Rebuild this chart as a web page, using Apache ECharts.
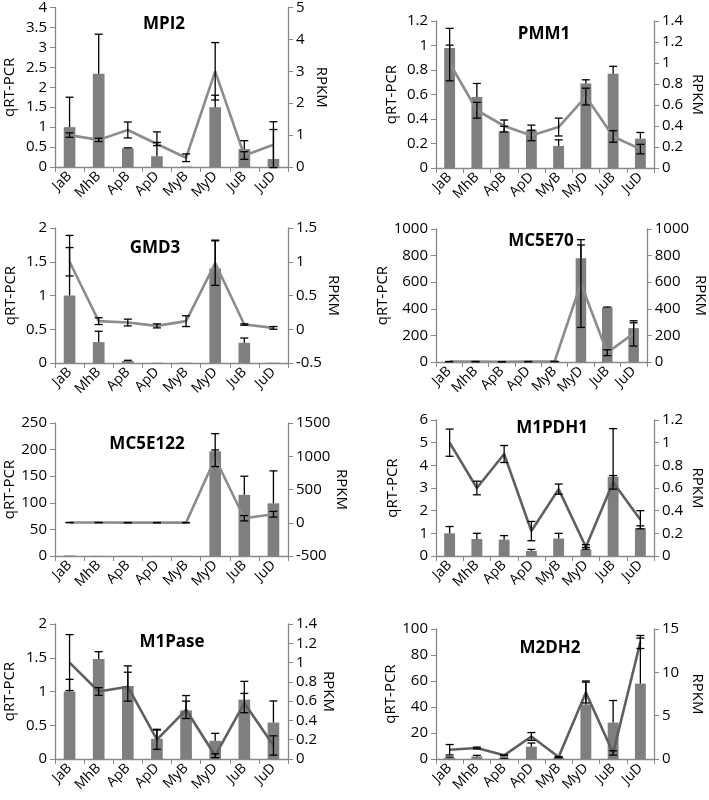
<!DOCTYPE html>
<html><head><meta charset="utf-8">
<script src="https://cdn.jsdelivr.net/npm/echarts@6/dist/echarts.min.js"></script>
<style>html,body{margin:0;padding:0;background:#fff}#c{width:709px;height:800px}</style>
</head><body><div id="c"></div>
<script>
const categories = ['JaB','MhB','ApB','ApD','MyB','MyD','JuB','JuD'];
const genes = ['MPI2','PMM1','GMD3','MC5E70','MC5E122','M1PDH1','M1Pase','M2DH2'];

// qRT-PCR (bars, left axis) with + error; RPKM (line, right axis) with ± error
const mpi2Qpcr = [1.0, 2.34, 0.47, 0.27, 0.01, 1.5, 0.45, 0.2];
const mpi2QpcrErr = [0.75, 0.99, 0.01, 0.61, 0, 0.3, 0.21, 0.74];
const mpi2Rpkm = [1.0, 0.85, 1.16, 0.72, 0.29, 3.0, 0.36, 0.7];
const mpi2RpkmErr = [0.07, 0.05, 0.25, 0.05, 0.12, 0.9, 0.12, 0.72];

const pmm1Qpcr = [0.98, 0.58, 0.30, 0.31, 0.18, 0.69, 0.77, 0.24];
const pmm1QpcrErr = [0.16, 0.11, 0.04, 0.04, 0.05, 0.03, 0.06, 0.05];
const pmm1Rpkm = [1.0, 0.55, 0.40, 0.31, 0.39, 0.68, 0.30, 0.18];
const pmm1RpkmErr = [0.17, 0.075, 0.057, 0.05, 0.085, 0.08, 0.055, 0.045];

const gmd3Qpcr = [1.0, 0.31, 0.03, 0.005, 0.005, 1.4, 0.3, 0.005];
const gmd3QpcrErr = [0.89, 0.16, 0.01, 0, 0, 0.42, 0.07, 0];
const gmd3Rpkm = [1.0, 0.12, 0.10, 0.05, 0.12, 0.98, 0.07, 0.02];
const gmd3RpkmErr = [0.21, 0.05, 0.05, 0.03, 0.08, 0.33, 0.01, 0.02];

const mc5e70Qpcr = [2, 3, 2, 2, 3, 780, 410, 255];
const mc5e70QpcrErr = [0, 0, 0, 0, 0, 100, 3, 40];
const mc5e70Rpkm = [3, 3, 2, 3, 4, 590, 70, 215];
const mc5e70RpkmErr = [1, 1, 1, 1, 1, 330, 22, 95];

const mc5e122Qpcr = [1, 0.3, 0.2, 0.2, 0.2, 197, 115, 99];
const mc5e122QpcrErr = [0, 0, 0, 0, 0, 33, 35, 61];
const mc5e122Rpkm = [3, 3, 2, 2, 2, 970, 68, 128];
const mc5e122RpkmErr = [1, 1, 1, 1, 1, 125, 40, 43];

const m1pdh1Qpcr = [1.0, 0.75, 0.72, 0.22, 0.77, 0.28, 3.5, 1.23];
const m1pdh1QpcrErr = [0.3, 0.25, 0.18, 0.07, 0.23, 0.1, 2.12, 0.1];
const m1pdh1Rpkm = [1.0, 0.6, 0.9, 0.22, 0.59, 0.08, 0.65, 0.32];
const m1pdh1RpkmErr = [0.12, 0.06, 0.075, 0.085, 0.045, 0.02, 0.06, 0.08];

const m1paseQpcr = [1.0, 1.48, 1.08, 0.30, 0.72, 0.27, 0.88, 0.54];
const m1paseQpcrErr = [0.18, 0.11, 0.30, 0.14, 0.22, 0.11, 0.27, 0.32];
const m1paseRpkm = [1.0, 0.7, 0.75, 0.2, 0.51, 0.034, 0.58, 0.14];
const m1paseRpkmErr = [0.29, 0.04, 0.15, 0.1, 0.09, 0.02, 0.1, 0.1];

const m2dh2Qpcr = [1, 2, 0.5, 9.5, 0.8, 42, 28, 58];
const m2dh2QpcrErr = [0.5, 0.8, 0.2, 2.8, 0.3, 18, 17, 35];
const m2dh2Rpkm = [1.07, 1.27, 0.42, 2.6, 0.23, 7.67, 0.7, 13.5];
const m2dh2RpkmErr = [0.6, 0.1, 0.05, 0.45, 0.05, 1.2, 0.25, 0.75];

// axis tick settings [min, max, interval]
const leftTicks = [[0,4,0.5],[0,1.2,0.2],[0,2,0.5],[0,1000,200],[0,250,50],[0,6,1],[0,2,0.5],[0,100,20]];
const rightTicks = [[0,5,1],[0,1.4,0.2],[-0.5,1.5,0.5],[0,1000,200],[-500,1500,500],[0,1.2,0.2],[0,1.4,0.2],[0,15,5]];

const qpcrData = [mpi2Qpcr, pmm1Qpcr, gmd3Qpcr, mc5e70Qpcr, mc5e122Qpcr, m1pdh1Qpcr, m1paseQpcr, m2dh2Qpcr];
const qpcrErrData = [mpi2QpcrErr, pmm1QpcrErr, gmd3QpcrErr, mc5e70QpcrErr, mc5e122QpcrErr, m1pdh1QpcrErr, m1paseQpcrErr, m2dh2QpcrErr];
const rpkmData = [mpi2Rpkm, pmm1Rpkm, gmd3Rpkm, mc5e70Rpkm, mc5e122Rpkm, m1pdh1Rpkm, m1paseRpkm, m2dh2Rpkm];
const rpkmErrData = [mpi2RpkmErr, pmm1RpkmErr, gmd3RpkmErr, mc5e70RpkmErr, mc5e122RpkmErr, m1pdh1RpkmErr, m1paseRpkmErr, m2dh2RpkmErr];

// layout
const grids = [
  {left:55, top:5, width:233, height:162},
  {left:436, top:21, width:218, height:147},
  {left:55, top:228, width:233, height:135},
  {left:436, top:229, width:218, height:133},
  {left:55, top:423, width:233, height:133},
  {left:436, top:420, width:218, height:136},
  {left:55, top:624, width:233, height:135},
  {left:436, top:629, width:218, height:130}
];
const titlePos = [[159,23],[539,33],[150,247],[536,240],[142,443],[547,427],[167,641],[545,647]];
const lineColors = ['#8c8c8c','#8c8c8c','#8c8c8c','#8c8c8c','#8c8c8c','#5f5f5f','#5f5f5f','#5f5f5f'];
const leftNameGaps = [37.5, 36.5, 36.5, 36.5, 37.5, 35.5, 37.5, 35.5];
const rightNameGaps = [26, 36, 28, 39, 41, 36, 29, 36];

const FONT = 'Open Sans';
const axisGray = '#888888';
const fmt = v => String(+(+v).toFixed(6));

function errSeries(xi, yi, vals, errs, both) {
  return {
    type: 'custom', xAxisIndex: xi, yAxisIndex: yi, z: 10, silent: true,
    encode: {x: 0, y: [1, 2]},
    renderItem: function (params, api) {
      const x = api.value(0);
      const lo = api.coord([x, api.value(1)]);
      const hi = api.coord([x, api.value(2)]);
      const w = 4;
      const st = {stroke: '#000', lineWidth: 1.3};
      const ch = [
        {type: 'line', shape: {x1: lo[0], y1: lo[1], x2: hi[0], y2: hi[1]}, style: st},
        {type: 'line', shape: {x1: hi[0] - w, y1: hi[1], x2: hi[0] + w, y2: hi[1]}, style: st}
      ];
      if (both) ch.push({type: 'line', shape: {x1: lo[0] - w, y1: lo[1], x2: lo[0] + w, y2: lo[1]}, style: st});
      return {type: 'group', children: ch};
    },
    data: vals.map((v, i) => errs[i] > 0 ? [i, both ? v - errs[i] : v, v + errs[i]] : null).filter(d => d)
  };
}

const option = {
  animation: false,
  backgroundColor: '#fff',
  textStyle: {fontFamily: FONT},
  title: genes.map((g, i) => ({
    text: g, left: titlePos[i][0], top: titlePos[i][1] - 12, textAlign: 'center',
    textStyle: {fontFamily: FONT, fontWeight: 'bold', fontSize: 17, color: '#000'}
  })),
  grid: grids,
  xAxis: grids.map((g, i) => ({
    type: 'category', gridIndex: i, data: categories,
    axisLine: {lineStyle: {color: axisGray, width: 1.3}},
    axisTick: {show: true, length: 5, lineStyle: {color: axisGray}},
    axisLabel: {rotate: 45, fontSize: 14, color: '#000', fontFamily: FONT, margin: 7, interval: 0}
  })),
  yAxis: [],
  series: []
};

for (let i = 0; i < 8; i++) {
  const lt = leftTicks[i], rt = rightTicks[i];
  option.yAxis.push({
    type: 'value', gridIndex: i, min: lt[0], max: lt[1], interval: lt[2],
    name: 'qRT-PCR', nameLocation: 'middle', nameRotate: 90, nameGap: leftNameGaps[i],
    nameTextStyle: {fontSize: 15, color: '#000', fontFamily: FONT},
    axisLine: {show: true, lineStyle: {color: axisGray, width: 1.3}},
    axisTick: {show: true, length: 5, lineStyle: {color: axisGray}},
    splitLine: {show: false},
    axisLabel: {fontSize: 15, color: '#000', fontFamily: FONT, formatter: fmt, margin: 8}
  });
  option.yAxis.push({
    type: 'value', gridIndex: i, position: 'right', min: rt[0], max: rt[1], interval: rt[2],
    name: 'RPKM', nameLocation: 'middle', nameRotate: -90, nameGap: rightNameGaps[i],
    nameTextStyle: {fontSize: 15, color: '#000', fontFamily: FONT},
    axisLine: {show: true, lineStyle: {color: axisGray, width: 1.3}},
    axisTick: {show: true, length: 5, lineStyle: {color: axisGray}},
    splitLine: {show: false},
    axisLabel: {fontSize: 15, color: '#000', fontFamily: FONT, formatter: fmt, margin: 8}
  });
  const ly = 2 * i, ry = 2 * i + 1;
  option.series.push({
    type: 'bar', xAxisIndex: i, yAxisIndex: ly, data: qpcrData[i], barWidth: '40%',
    itemStyle: {color: '#7f7f7f'}, z: 2, silent: true
  });
  option.series.push({
    type: 'line', xAxisIndex: i, yAxisIndex: ry, data: rpkmData[i], symbol: 'none',
    lineStyle: {color: lineColors[i], width: 2.6}, z: 4, silent: true
  });
  option.series.push(errSeries(i, ly, qpcrData[i], qpcrErrData[i], false));
  option.series.push(errSeries(i, ry, rpkmData[i], rpkmErrData[i], true));
}

const chart = echarts.init(document.getElementById('c'), null, {renderer: 'canvas'});
chart.setOption(option);
</script>
</body></html>
